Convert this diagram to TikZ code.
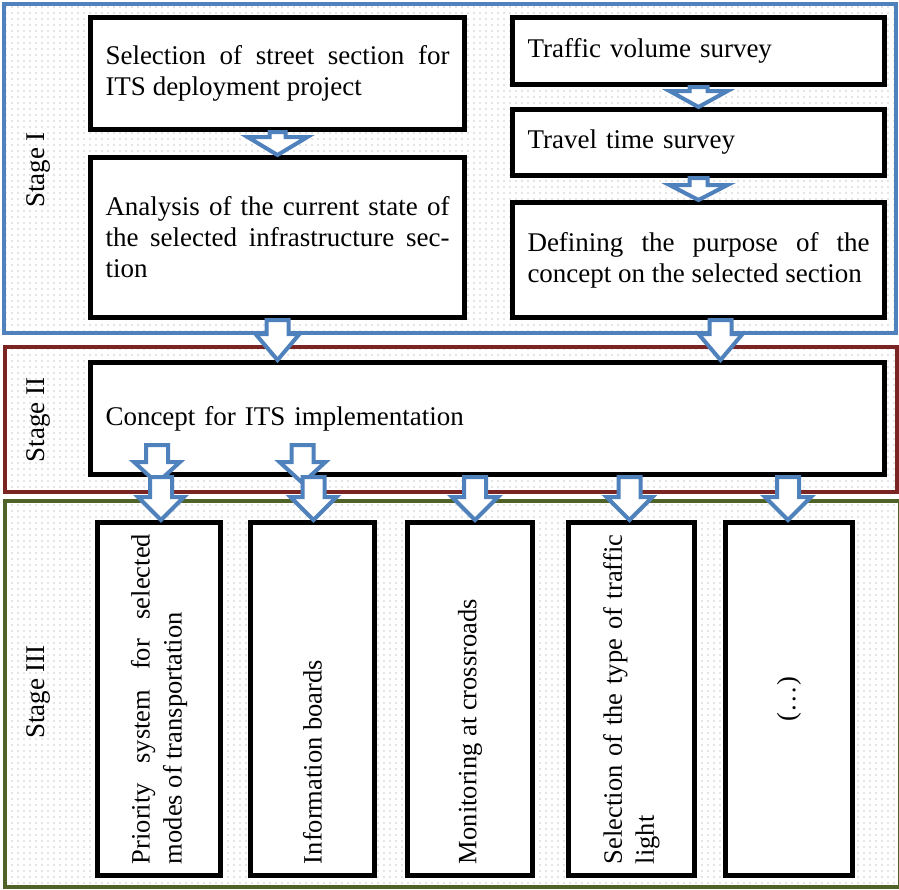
\documentclass[tikz,border=0pt]{standalone}
\usepackage{fontspec}
\setmainfont{Liberation Serif}
\usetikzlibrary{patterns.meta,calc}
\definecolor{stageblue}{RGB}{79,129,189}
\definecolor{stagered}{RGB}{122,36,36}
\definecolor{stagegreen}{RGB}{79,98,40}
\definecolor{arrowblue}{RGB}{79,129,189}
\definecolor{dotgray}{RGB}{140,140,140}
\tikzdeclarepattern{name=sparsedots, type=uncolored,
  bounding box={(-1pt,-1pt) and (5pt,5pt)}, tile size={(6pt,6pt)},
  code={\fill (0pt,0pt) circle[radius=0.7pt];}}
\tikzset{
  frame/.style={line width=4pt},
  dotfill/.style={pattern=sparsedots, pattern color=dotgray},
  box/.style={draw=black, line width=5pt, fill=white, inner xsep=15pt, inner ysep=0pt,
    align=justify, anchor=north west, font=\fontsize{27}{31}\selectfont},
  vbox/.style={draw=black, line width=5pt, fill=white, anchor=north west, inner sep=0pt},
  vtext/.style={rotate=90, text width=330pt, inner sep=0pt, align=justify,
    font=\fontsize{26.5}{32}\selectfont},
  stagelabel/.style={rotate=90, inner sep=0pt, font=\fontsize{27}{31}\selectfont},
  arrowsty/.style={draw=arrowblue, line width=4pt, fill=white, line join=miter},
}
% #1 start, #2 tip, #3 shaft half width, #4 head half width, #5 head length
\newcommand{\blockarrow}[5]{%
  \draw[arrowsty] let \p1=#1, \p2=#2 in
    ({\x1-#3pt},\y1) -- ({\x1+#3pt},\y1) -- ({\x1+#3pt},{\y2+#5pt}) --
    ({\x1+#4pt},{\y2+#5pt}) -- (\x1,\y2) -- ({\x1-#4pt},{\y2+#5pt}) --
    ({\x1-#3pt},{\y2+#5pt}) -- cycle;}
\begin{document}
\begin{tikzpicture}[x=1pt,y=-1pt]
\useasboundingbox (0,0) rectangle (899,889);
\hyphenpenalty=10000
% stage frames
\fill[white] (4,4) rectangle (896,333);
\fill[dotfill] (4,4) rectangle (896,333);
\draw[frame, stageblue] (4,4) rectangle (896,333);
\fill[white] (5,347) rectangle (897,492);
\fill[dotfill] (5,347) rectangle (897,492);
\draw[frame, stagered] (5,347) rectangle (897,492);
\fill[white] (5,501) rectangle (900,887);
\fill[dotfill] (5,501) rectangle (900,887);
\draw[frame, stagegreen] (5,501) rectangle (900,887);
% stage labels
\node[stagelabel] (L1) at (38,170) {Stage I};
\node[stagelabel] (L2) at (38,420) {Stage II};
\node[stagelabel] (L3) at (38,692) {Stage III};
% stage I boxes
\node[box, minimum width=374pt, minimum height=112pt, text width=344pt] (A) at (88,15)
  {Selection of street section for\linebreak ITS deployment project};
\node[box, minimum width=374pt, minimum height=160pt, text width=344pt] (B) at (88,155)
  {Analysis of the current state of\linebreak the selected infrastructure sec-\linebreak tion};
\node[box, minimum width=372pt, minimum height=67pt, text width=342pt, align=left] (C) at (510,15)
  {Traffic volume survey};
\node[box, minimum width=372pt, minimum height=66pt, text width=342pt, align=left] (D) at (510,107)
  {Travel time survey};
\node[box, minimum width=372pt, minimum height=115pt, text width=342pt] (E) at (510,200)
  {Defining the purpose of the\linebreak concept on the selected section};
% stage II box
\node[box, minimum width=794pt, minimum height=112pt, text width=764pt, align=left] (S2) at (88,360)
  {Concept for ITS implementation};
% stage III boxes
\node[vbox, minimum width=123pt, minimum height=353pt] (P1) at (95,520) {};
\node[vbox, minimum width=124pt, minimum height=353pt] (P2) at (248,520) {};
\node[vbox, minimum width=125pt, minimum height=353pt] (P3) at (405,520) {};
\node[vbox, minimum width=126pt, minimum height=353pt] (P4) at (566,520) {};
\node[vbox, minimum width=127pt, minimum height=353pt] (P5) at (723,520) {};
\node[vtext] (T1) at (P1.center) {Priority system for selected\linebreak modes of transportation};
\node[vtext] (T2) at (P2.center) {Information boards};
\node[vtext] (T3) at (P3.center) {Monitoring at crossroads};
\node[vtext, align=left] (T4) at (P4.center) {Selection of the type of traffic\newline light};
\node[vtext, align=center] (T5) at (P5.center) {(…)};
% block arrows
\blockarrow{(A.south)}{(B.north)}{8}{30}{18}
\blockarrow{(C.south)}{(D.north)}{9}{29}{16}
\blockarrow{(D.south)}{(E.north)}{9}{29}{15}
\coordinate (b1) at (B.south);
\blockarrow{(b1)}{(b1 |- S2.north)}{11}{22}{26}
\coordinate (e1) at ([xshift=22]E.south);
\blockarrow{(e1)}{(e1 |- S2.north)}{11}{22}{26}
% stage III arrows (duplicated ones as in the original)
\coordinate (p1a) at ([xshift=-2]P1.north);
\blockarrow{($(p1a |- S2.south)+(0,-32)$)}{($(p1a)+(0,-37)$)}{11}{23}{21}
\coordinate (p1b) at ([xshift=2]P1.north);
\blockarrow{(p1b |- S2.south)}{(p1b)}{11}{23}{23}
\coordinate (p2a) at ([xshift=-10]P2.north);
\blockarrow{($(p2a |- S2.south)+(0,-32)$)}{($(p2a)+(0,-37)$)}{11}{23}{21}
\coordinate (p2b) at ([xshift=1]P2.north);
\blockarrow{(p2b |- S2.south)}{(p2b)}{11}{23}{23}
\coordinate (p3) at ([xshift=5]P3.north);
\blockarrow{(p3 |- S2.south)}{(p3)}{11}{23}{23}
\coordinate (p4) at ([xshift=-2]P4.north);
\blockarrow{(p4 |- S2.south)}{(p4)}{11}{23}{23}
\coordinate (p5) at ([xshift=-1]P5.north);
\blockarrow{(p5 |- S2.south)}{(p5)}{11}{23}{23}
\end{tikzpicture}
\end{document}
